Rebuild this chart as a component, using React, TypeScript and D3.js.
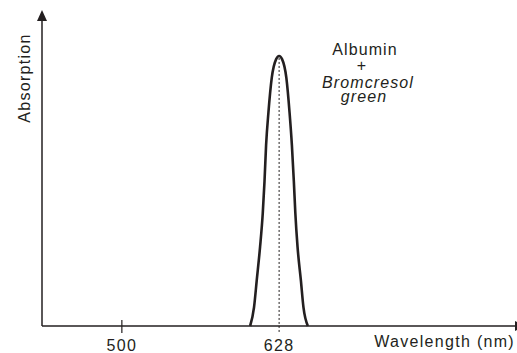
import * as d3 from "d3";

// spectrum (arbitrary absorption units)
const wavelengths = [
  604.4, 607.6, 609.8, 612.5, 614.7, 616.1, 617.4, 619.3, 622.0, 625.6, 628,
  630.4, 633.9, 636.5, 638.4, 640.0, 641.2, 643.0, 645.7, 647.8, 651.4,
];
const absorption = [
  0, 0.06, 0.146, 0.252, 0.36, 0.46, 0.576, 0.68, 0.79, 0.85, 0.86, 0.85, 0.79,
  0.68, 0.576, 0.46, 0.36, 0.252, 0.146, 0.06, 0,
];
const tickValues = [500, 628];
const peakWavelength = 628;
const annotation = ["Albumin", "+", "Bromcresol", "green"];

const W = 517;
const H = 353;
const ink = "#231f20";
const font = "'Liberation Sans', Arial, sans-serif";

export default function App() {
  const x = d3.scaleLinear().domain([435, 820]).range([42, 515]);
  const y = d3.scaleLinear().domain([0, 1]).range([326, 12]);

  const data = wavelengths.map((w, i) => ({ w, a: absorption[i] }));
  const line = d3
    .line<{ w: number; a: number }>()
    .x((d) => x(d.w))
    .y((d) => y(d.a))
    .curve(d3.curveMonotoneX);

  const peak = absorption[wavelengths.indexOf(peakWavelength)];
  const x0 = x.range()[0];
  const y0 = y.range()[0];

  return (
    <svg
      width={W}
      height={H}
      style={{ position: "absolute", left: 0, top: 0, background: "#fff" }}
      fontFamily={font}
      fontSize={16}
      fill={ink}
    >
      {/* axes */}
      <line x1={x0} y1={y0} x2={x0} y2={20} stroke={ink} strokeWidth={1.5} />
      <path d={`M${x0 - 5},21 L${x0},10 L${x0 + 5},21 Z`} fill={ink} />
      <line x1={x0} y1={y0} x2={W} y2={y0} stroke={ink} strokeWidth={1.5} />
      <path d={`M515,${y0 - 5} L526,${y0} L515,${y0 + 5} Z`} fill={ink} />

      {/* ticks */}
      {tickValues.map((t) =>
        t === peakWavelength ? null : (
          <line key={t} x1={x(t)} x2={x(t)} y1={y0 - 6} y2={y0 + 7} stroke={ink} strokeWidth={1.2} />
        )
      )}
      <line
        x1={x(peakWavelength)}
        x2={x(peakWavelength)}
        y1={y(peak) + 2}
        y2={y0 + 7}
        stroke={ink}
        strokeWidth={1}
        strokeDasharray="2,2"
      />
      {tickValues.map((t) => (
        <text key={`l${t}`} x={x(t)} y={351} textAnchor="middle" letterSpacing={1.3}>
          {t}
        </text>
      ))}

      {/* spectrum */}
      <path
        d={line(data) ?? ""}
        fill="none"
        stroke={ink}
        strokeWidth={2.6}
        strokeLinejoin="round"
      />

      {/* labels */}
      <text x={515} y={347} textAnchor="end" letterSpacing={1.3}>
        Wavelength (nm)
      </text>
      <text
        transform="translate(30,78) rotate(-90)"
        textAnchor="middle"
        letterSpacing={1.3}
      >
        Absorption
      </text>

      <g textAnchor="middle" letterSpacing={1.1}>
        <text x={365} y={55}>{annotation[0]}</text>
        <text x={362} y={71}>{annotation[1]}</text>
        <text x={368} y={88} fontStyle="italic">{annotation[2]}</text>
        <text x={364} y={102} fontStyle="italic">{annotation[3]}</text>
      </g>
    </svg>
  );
}
